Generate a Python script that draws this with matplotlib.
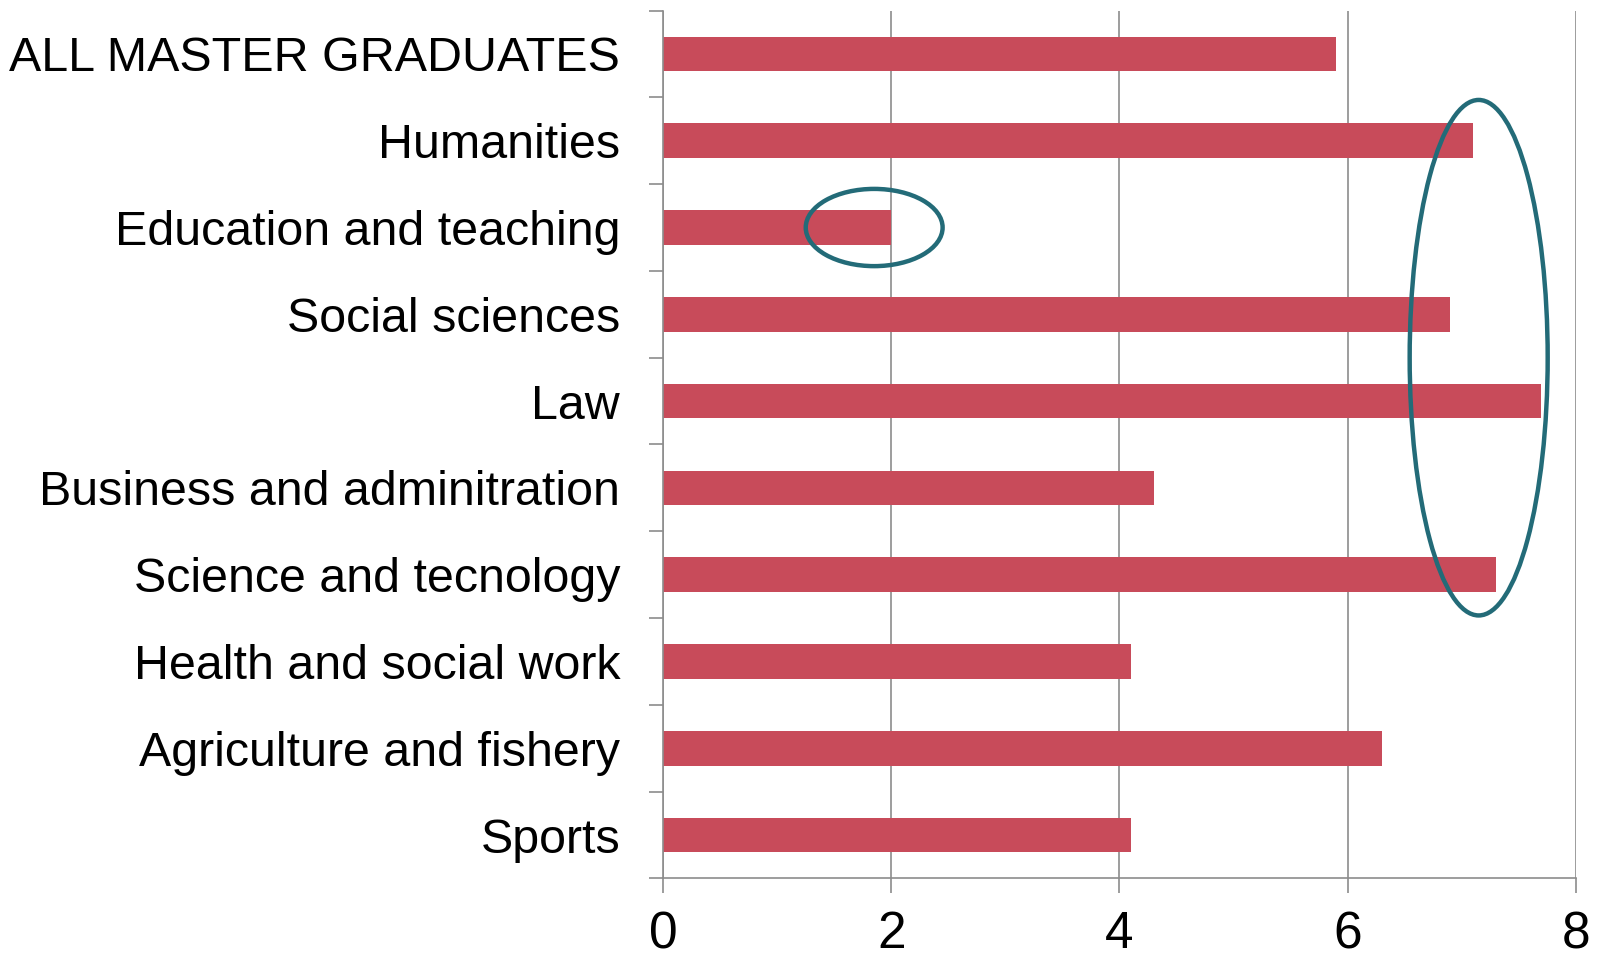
import matplotlib.pyplot as plt
from matplotlib.patches import Ellipse

categories = ['ALL MASTER GRADUATES', 'Humanities', 'Education and teaching',
              'Social sciences', 'Law', 'Business and adminitration',
              'Science and tecnology', 'Health and social work',
              'Agriculture and fishery', 'Sports']
values = [5.9, 7.1, 2.0, 6.9, 7.7, 4.3, 7.3, 4.1, 6.3, 4.1]
xticks = [0, 2, 4, 6, 8]

# highlight ellipses: (x center, category center, width, height)
circles = [(1.85, 2.0, 1.2, 0.89), (7.15, 3.5, 1.21, 5.94)]

bar_color = '#C84B5A'
ring_color = '#236B78'
grid_color = '#8C8C8C'

plt.rcParams['font.family'] = ['Liberation Sans', 'DejaVu Sans']

fig = plt.figure(figsize=(15.98, 9.6), dpi=100)
ax = fig.add_axes([0.415, 0.085, 0.571, 0.904])

pos = list(range(len(categories)))
ax.barh(pos, values, height=0.4, color=bar_color, zorder=2)

for cx, cy, w, h in circles:
    ax.add_patch(Ellipse((cx, cy), w, h, fill=False, edgecolor=ring_color,
                         linewidth=3.2, zorder=3))

ax.set_xlim(0, 8)
ax.set_ylim(len(categories) - 0.5, -0.5)
ax.set_xticks(xticks)
ax.set_xticklabels([str(t) for t in xticks])
ax.set_yticks(pos)
ax.set_yticklabels(categories)
ax.set_yticks([p - 0.5 for p in pos] + [len(categories) - 0.5], minor=True)

ax.grid(axis='x', color=grid_color, linewidth=1.2, zorder=0)
for s in ['top', 'right']:
    ax.spines[s].set_visible(False)
for s in ['left', 'bottom']:
    ax.spines[s].set_color(grid_color)
    ax.spines[s].set_linewidth(1.2)

ax.tick_params(axis='y', which='major', length=0, pad=31, labelsize=34.8)
ax.tick_params(axis='y', which='minor', length=10, width=1.2, color=grid_color)
ax.tick_params(axis='x', length=11, width=1.2, color=grid_color, pad=12, labelsize=37)

fig.savefig('out.png', dpi=100)
